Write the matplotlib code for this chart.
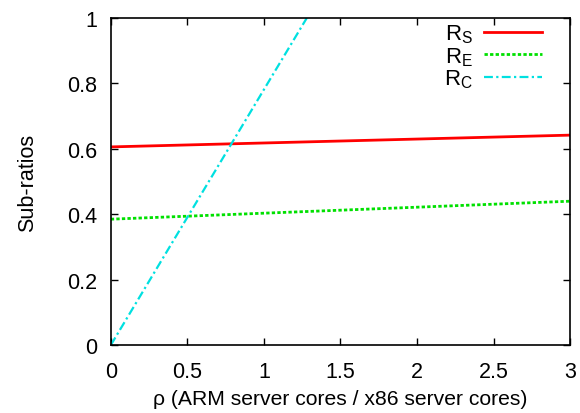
import numpy as np
import matplotlib.pyplot as plt

plt.rcParams['font.family'] = ['Liberation Sans', 'DejaVu Sans']
plt.rcParams['mathtext.fontset'] = 'custom'
plt.rcParams['mathtext.rm'] = 'Liberation Sans'
plt.rcParams['mathtext.it'] = 'Liberation Sans'

### DATA ###
rho = [0.0, 3.0]
r_s = [0.606, 0.642]
r_e = [0.385, 0.440]
rho_c = [0.0, 1.28]
r_c = [0.0, 1.0]

xticks = [0, 0.5, 1, 1.5, 2, 2.5, 3]
yticks = [0, 0.2, 0.4, 0.6, 0.8, 1]

### PLOT ###
fig = plt.figure(figsize=(5.8, 4.14), dpi=100)
ax = fig.add_axes([0.191, 0.164, 0.792, 0.790])

ax.plot(rho, r_s, color='#ff0000', lw=2.0, ls='-', label=r'R$_\mathrm{S}$')
ax.plot(rho, r_e, color='#00e000', lw=2.0, ls=(0, (1.2, 0.8)), label=r'R$_\mathrm{E}$')
ax.plot(rho_c, r_c, color='#00e0e0', lw=1.6, ls=(0, (4, 1.5, 1, 1.5)), label=r'R$_\mathrm{C}$')

ax.set_xlim(0, 3)
ax.set_ylim(0, 1)
ax.set_xticks(xticks)
ax.set_xticklabels(['0', '0.5', '1', '1.5', '2', '2.5', '3'])
ax.set_yticks(yticks)
ax.set_yticklabels(['0', '0.2', '0.4', '0.6', '0.8', '1'])
ax.tick_params(direction='in', top=True, right=True, length=5, width=1,
               labelsize=15.5)
ax.tick_params(axis='x', pad=11.5)
ax.tick_params(axis='y', pad=10)
for s in ax.spines.values():
    s.set_linewidth(1.2)

ax.set_xlabel('ρ (ARM server cores / x86 server cores)', fontsize=15.2, labelpad=5)
ax.set_ylabel('Sub-ratios', fontsize=15.5, labelpad=21)

leg = ax.legend(loc='upper right', frameon=False, markerfirst=False, fontsize=16,
                handlelength=2.6, handletextpad=0.5, labelspacing=0.0,
                borderpad=0.0, borderaxespad=0.0, bbox_to_anchor=(0.939, 0.986))

fig.savefig('out.png', dpi=100)
